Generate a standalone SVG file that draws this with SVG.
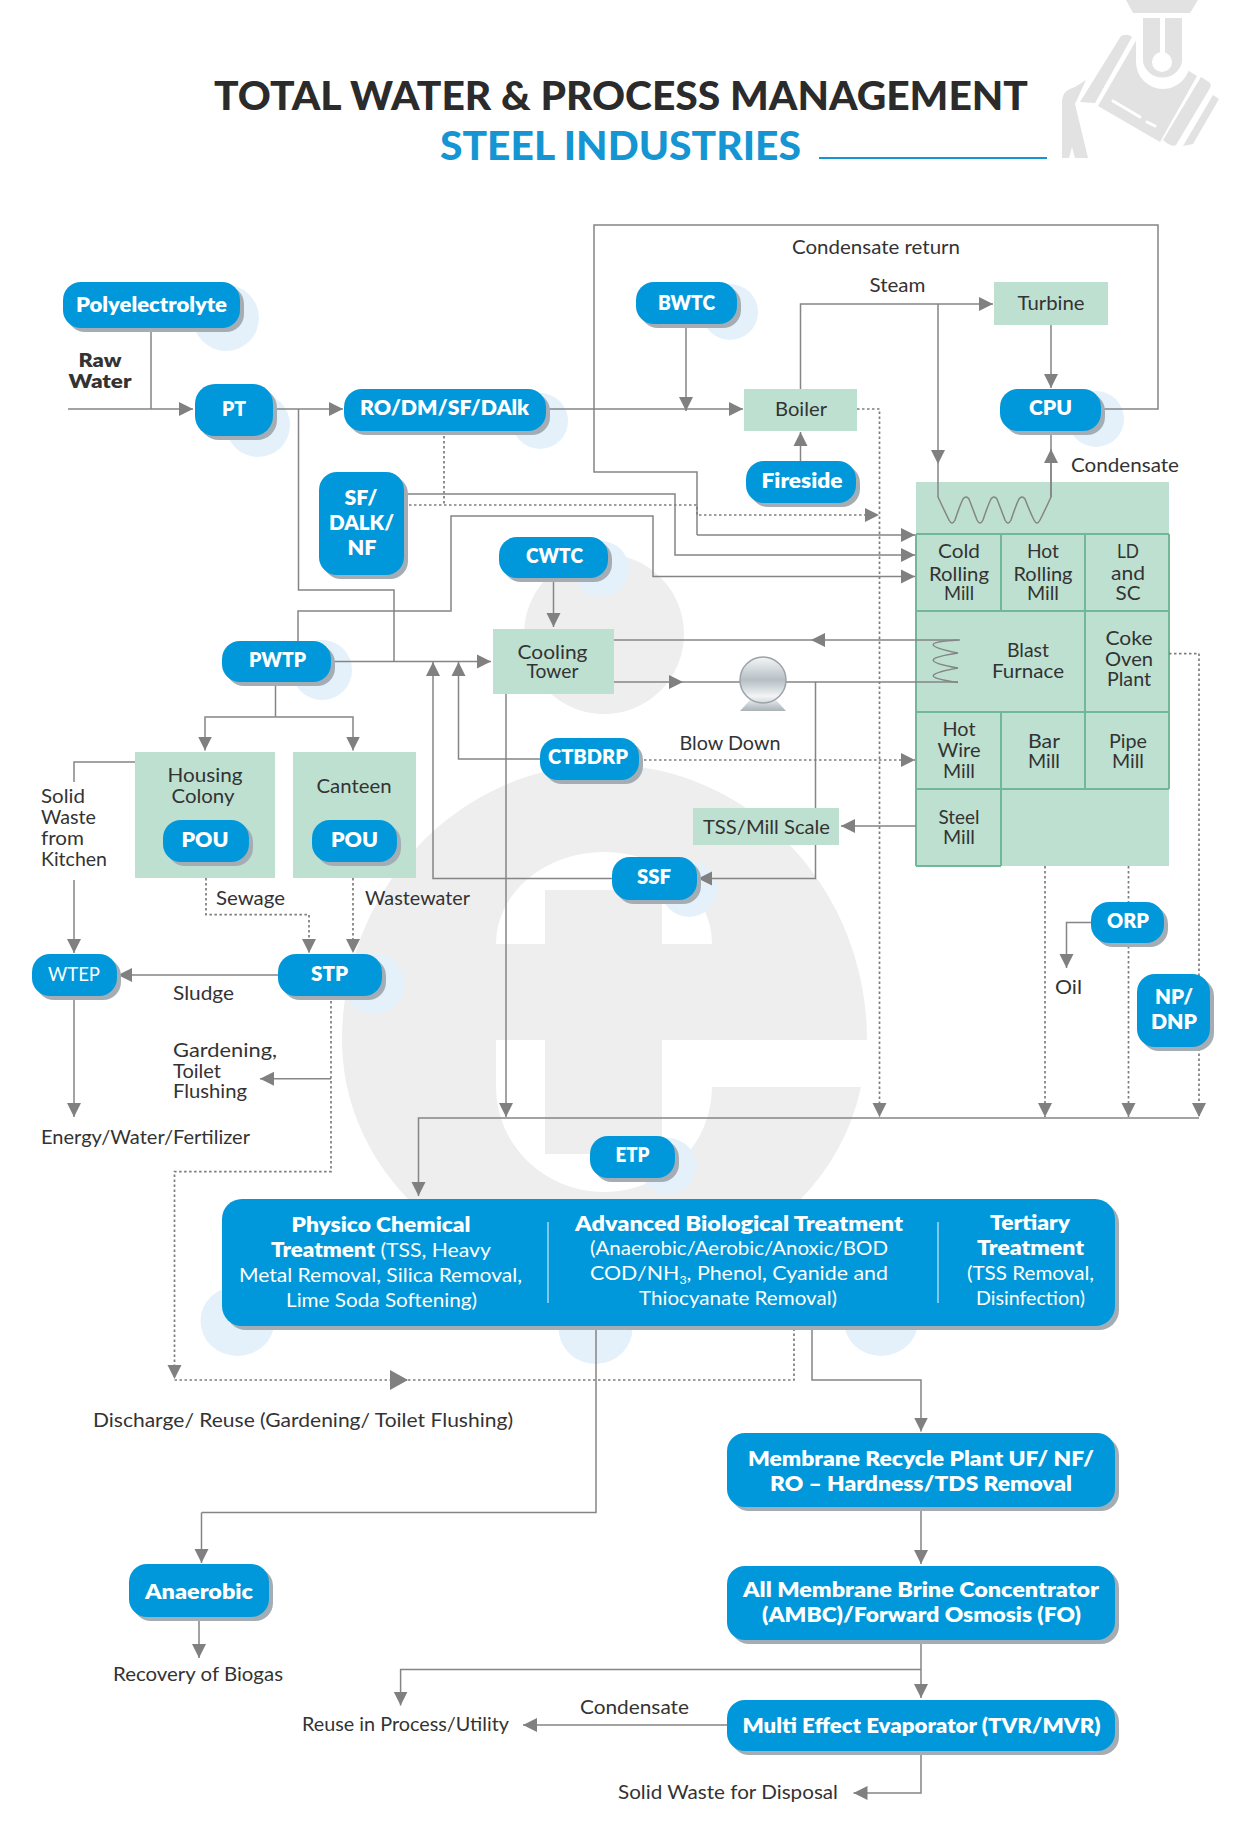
<svg xmlns="http://www.w3.org/2000/svg" width="1241" height="1840" viewBox="0 0 1241 1840">
<style>
text{font-family:Lato,"Liberation Sans",sans-serif;font-size:19px;fill:#333;text-anchor:middle}
.l{text-anchor:start}
.w{fill:#fff;font-weight:800;font-size:20px}
.r{fill:#fff;font-weight:400;font-size:19px}
.h{fill:#eee}
.halo{fill:#e4f1fa}
.pill{fill:#0098da}
.sh{fill:#a3adb3}
.g{fill:#bde0d0}
.cell{fill:none;stroke:#72b79a;stroke-width:2}
.c{fill:none;stroke:#858585;stroke-width:1.5}
.d{fill:none;stroke:#7d7d7d;stroke-width:1.7;stroke-dasharray:2.5 2.5}
.m{marker-end:url(#a)}
.logo{fill:#e2e2e2}
</style>
<defs>
<marker id="a" markerUnits="userSpaceOnUse" markerWidth="15" markerHeight="15" refX="14" refY="7.5" orient="auto"><path d="M0,0.5 L14,7.5 L0,14.5 Z" fill="#808080"/></marker>
<marker id="b" markerUnits="userSpaceOnUse" markerWidth="19" markerHeight="22" refX="18" refY="11" orient="auto"><path d="M0,1 L18,11 L0,21 Z" fill="#808080"/></marker>
<linearGradient id="pg" x1="0" y1="0" x2="0" y2="1"><stop offset="0" stop-color="#f4f6f7"/><stop offset="0.5" stop-color="#b5bfc4"/><stop offset="0.85" stop-color="#f2f4f5"/><stop offset="1" stop-color="#d5dade"/></linearGradient>
<linearGradient id="pb" x1="0" y1="0" x2="0" y2="1"><stop offset="0" stop-color="#e4e8ea"/><stop offset="1" stop-color="#a8b2b7"/></linearGradient>
</defs>
<rect width="1241" height="1840" fill="#fff"/>

<g id="watermark">
<circle class="h" cx="604" cy="634" r="80"/>
<path class="h" d="M342,1040 A262,275 0 0 1 867,1040 L861,1087 A262,240 0 0 1 801,1199 L408,1199 A262,240 0 0 1 342,1040 Z"/>
<path fill="#fff" d="M496,944 A108,92 0 0 1 712,944 Z"/>
<path fill="#fff" d="M496,1040 L496,1087 A108,105 0 0 0 712,1087 L875,1087 L875,1040 Z"/>
<rect class="h" x="545" y="890" width="117" height="264"/>
</g>

<g id="logo">
<path class="logo" d="M1126,0 H1198 L1190,13 H1133 Z"/>
<path class="logo" d="M1137,39 L1098,106 L1160,142 L1197,76 Z"/>
<path fill="#fff" d="M1136,18 H1190 V62 A27,27 0 0 1 1136,62 Z"/>
<path class="logo" d="M1143,18 H1182 V62 A20,20 0 0 1 1143,62 Z"/>
<circle cx="1162" cy="62" r="10" fill="#fff"/>
<rect x="1160" y="18" width="5" height="36" fill="#fff"/>
<path class="logo" d="M1121,36 Q1127,33 1132,37 L1095,103 L1080,102 Z"/>
<path class="logo" d="M1201,77 L1209,82 Q1212,85 1210,88 L1176,145 Q1172,148 1163,140 Z"/>
<path class="logo" d="M1213,95 L1219,99 L1193,144 L1183,146 Z"/>
<path class="logo" d="M1086,80 L1075,87 Q1063,90 1062,100 L1062,158 L1069,158 L1072,147 L1075,158 L1088,158 L1075,104 Z"/>
<path d="M1113,101 L1140,117 M1147,122 L1155,126" stroke="#fff" stroke-width="3" stroke-linecap="round" fill="none"/>
</g>

<g id="title">
<text x="621" y="109.5" style="font-size:40px;font-weight:900;fill:#2b2b2b" textLength="814" lengthAdjust="spacingAndGlyphs">TOTAL WATER &amp; PROCESS MANAGEMENT</text>
<text x="620.5" y="160" style="font-size:40px;font-weight:900;fill:#1596d2" textLength="361" lengthAdjust="spacingAndGlyphs">STEEL INDUSTRIES</text>
<path d="M819,158 H1047" stroke="#1596d2" stroke-width="2"/>
</g>

<g id="halos">
<circle class="halo" cx="226" cy="318" r="33"/>
<circle class="halo" cx="258" cy="425" r="32"/>
<circle class="halo" cx="540" cy="421" r="28"/>
<circle class="halo" cx="730" cy="312" r="28"/>
<circle class="halo" cx="1096" cy="419" r="28"/>
<circle class="halo" cx="601" cy="569" r="28"/>
<circle class="halo" cx="322" cy="670" r="30"/>
<circle class="halo" cx="689" cy="889" r="28"/>
<circle class="halo" cx="374" cy="984" r="30"/>
<circle class="halo" cx="668" cy="1166" r="28"/>
<ellipse class="halo" cx="237.5" cy="1321" rx="37" ry="35"/>
<ellipse class="halo" cx="595.5" cy="1328" rx="37" ry="36"/>
<ellipse class="halo" cx="881" cy="1321" rx="37" ry="35"/>
</g>

<g id="turbine"><rect class="g" x="994" y="282" width="114" height="43"/><text x="1051" y="310" textLength="67" lengthAdjust="spacingAndGlyphs">Turbine</text></g>
<g id="boiler"><rect class="g" x="744" y="389" width="113" height="42"/><text x="801" y="416" textLength="52" lengthAdjust="spacingAndGlyphs">Boiler</text></g>
<g id="cooling-tower"><rect class="g" x="493" y="629" width="121" height="65"/>
<text x="552.5" y="659" textLength="70" lengthAdjust="spacingAndGlyphs">Cooling</text><text x="552.5" y="678" textLength="52" lengthAdjust="spacingAndGlyphs">Tower</text></g>
<g id="housing-colony"><rect class="g" x="135" y="752" width="140" height="126"/>
<text x="205" y="782" textLength="75" lengthAdjust="spacingAndGlyphs">Housing</text><text x="203" y="803" textLength="63" lengthAdjust="spacingAndGlyphs">Colony</text></g>
<g id="canteen"><rect class="g" x="293" y="752" width="123" height="126"/><text x="354" y="793" textLength="75" lengthAdjust="spacingAndGlyphs">Canteen</text></g>

<g id="mills">
<path class="g" d="M916,482 H1169 V866 H916 Z"/>
<path class="cell" d="M916,534 H1169 M916,611 H1169 M916,712 H1169 M916,789 H1169 M1001,534 V611 M1085,534 V712 M1001,712 V866 M1085,712 V789 M916,534 V866 M1169,534 V789 M916,866 H1001"/>
<g id="cold-rolling-mill"><text x="959" y="558" textLength="42" lengthAdjust="spacingAndGlyphs">Cold</text><text x="959" y="581" textLength="60" lengthAdjust="spacingAndGlyphs">Rolling</text><text x="959" y="600" textLength="30" lengthAdjust="spacingAndGlyphs">Mill</text></g>
<g id="hot-rolling-mill"><text x="1043" y="558" textLength="32" lengthAdjust="spacingAndGlyphs">Hot</text><text x="1043" y="581" textLength="59" lengthAdjust="spacingAndGlyphs">Rolling</text><text x="1043" y="600" textLength="32" lengthAdjust="spacingAndGlyphs">Mill</text></g>
<g id="ld-sc"><text x="1128" y="558" textLength="22" lengthAdjust="spacingAndGlyphs">LD</text><text x="1128" y="580" textLength="34" lengthAdjust="spacingAndGlyphs">and</text><text x="1128" y="600" textLength="25" lengthAdjust="spacingAndGlyphs">SC</text></g>
<g id="blast-furnace"><text x="1028" y="657" textLength="42" lengthAdjust="spacingAndGlyphs">Blast</text><text x="1028" y="678" textLength="72" lengthAdjust="spacingAndGlyphs">Furnace</text></g>
<g id="coke-oven"><text x="1129" y="644.5" textLength="47" lengthAdjust="spacingAndGlyphs">Coke</text><text x="1129" y="665.5" textLength="48" lengthAdjust="spacingAndGlyphs">Oven</text><text x="1129" y="685.5" textLength="44" lengthAdjust="spacingAndGlyphs">Plant</text></g>
<g id="hot-wire-mill"><text x="959" y="736" textLength="33" lengthAdjust="spacingAndGlyphs">Hot</text><text x="959" y="757" textLength="43" lengthAdjust="spacingAndGlyphs">Wire</text><text x="959" y="778" textLength="32" lengthAdjust="spacingAndGlyphs">Mill</text></g>
<g id="bar-mill"><text x="1044" y="747.5" textLength="32" lengthAdjust="spacingAndGlyphs">Bar</text><text x="1044" y="767.5" textLength="32" lengthAdjust="spacingAndGlyphs">Mill</text></g>
<g id="pipe-mill"><text x="1128" y="747.5" textLength="38" lengthAdjust="spacingAndGlyphs">Pipe</text><text x="1128" y="767.5" textLength="32" lengthAdjust="spacingAndGlyphs">Mill</text></g>
<g id="steel-mill"><text x="959" y="824" textLength="41" lengthAdjust="spacingAndGlyphs">Steel</text><text x="959" y="844" textLength="32" lengthAdjust="spacingAndGlyphs">Mill</text></g>
</g>

<g id="connectors">
<path class="c m" d="M68,409 H193"/>
<path class="c" d="M151,328 V409"/>
<path class="c m" d="M273,409 H343"/>
<path class="c" d="M298.5,409 V590 H394 V661.5"/>
<path class="c m" d="M546,409 H743"/>
<path class="c m" d="M686,324 V411"/>
<path class="c m" d="M800.5,461 V432"/>
<path class="c m" d="M800.5,389 V304 H993"/>
<path class="c m" d="M1051,325 V388"/>
<path class="c" d="M1101,409 H1158 V225 H594 V472 H697 V535"/>
<path class="c m" d="M697,535 H915"/>
<path class="c m" d="M938,304 V464"/>
<path class="c" d="M938,464 V497 Q945,512 949,520 Q952,526 955,520 Q960,505 963,499 Q966,495 969,499 Q974,512 977,520 Q980,526 983,520 Q988,505 991,499 Q994,495 997,499 Q1002,512 1005,520 Q1008,526 1011,520 Q1016,505 1019,499 Q1022,495 1025,499 Q1030,512 1034,520 Q1037,526 1040,520 Q1046,508 1051,497 V431"/>
<path class="c m" d="M1051,497 V449"/>
<path class="d m" d="M857,409 H879.5 V1117"/>
<path class="c m" d="M404,494 H675 V555 H915"/>
<path class="c m" d="M298,641 V611 H451 V516 H653 V576.5 H915"/>
<path class="d" d="M444,431 V505"/>
<path class="d m" d="M404,505 H697 V515 H879"/>
<path class="c m" d="M553.5,578 V627"/>
<path class="c m" d="M331,661.5 H491"/>
<path class="c m" d="M540,759 H458.5 V662"/>
<path class="c m" d="M612,878.6 H433 V662"/>
<path class="c m" d="M506,694 V1117"/>
<path class="c m" d="M960,640 H811"/>
<path class="c" d="M811,640 H614"/>
<path class="c m" d="M614,682 H683"/>
<path class="c" d="M683,682 H745 M780,682 H958"/>
<path class="c" d="M958,640 C925,642 925,646 958,653 C925,658 925,662 958,668 C925,674 925,678 958,682.5"/>
<path class="c m" d="M815.5,682 V878.6 H698"/>
<path class="c m" d="M916,826 H841"/>
<path class="d m" d="M639,760 H915"/>
<path class="c" d="M275.5,682 V717"/>
<path class="c m" d="M275.5,717 H205 V750.5"/>
<path class="c m" d="M275.5,717 H353 V750.5"/>
<path class="c" d="M135,762 H74 V782"/>
<path class="c m" d="M74,880 V953"/>
<path class="c m" d="M74,996 V1117"/>
<path class="c m" d="M278,975 H118"/>
<path class="d m" d="M206,878 V914.6 H309 V953"/>
<path class="d m" d="M353,878 V953"/>
<path class="d m" d="M331,996 V1171.6 H174.5 V1379"/>
<path class="c m" d="M331,1078.7 H260"/>
<path class="c m" d="M1199,1118 H418.5 V1196"/>
<path class="d m" d="M1045,866 V1117"/>
<path class="d m" d="M1128.5,866 V1117"/>
<path class="d m" d="M1169,653.6 H1199 V1117"/>
<path class="c m" d="M1091,922.5 H1066.5 V968"/>
<path class="d" d="M408,1380 H794 V1326"/>
<path class="d" d="M174.5,1380 H408" marker-end="url(#b)"/>
<path class="c" d="M596,1326 V1512.6 H201.5"/>
<path class="c m" d="M201.5,1512.6 V1563"/>
<path class="c m" d="M812,1326 V1380 H921 V1431.5"/>
<path class="c m" d="M921,1507 V1564"/>
<path class="c m" d="M921,1640 V1698"/>
<path class="c m" d="M921,1669.6 H400.6 V1705.6"/>
<path class="c m" d="M727,1725 H523"/>
<path class="c m" d="M921,1751 V1793 H853.5"/>
<path class="c m" d="M199,1617 V1658"/>
</g>

<g id="tss"><rect class="g" x="693" y="808" width="146" height="37"/><text x="766.5" y="833.5" textLength="127" lengthAdjust="spacingAndGlyphs">TSS/Mill Scale</text></g>
<g id="pump">
<path d="M750,700 H776 L786,711 H740 Z" fill="url(#pb)"/>
<circle cx="763" cy="680" r="23" fill="url(#pg)" stroke="#9aa3a8" stroke-width="1.5"/>
</g>

<g id="polyelectrolyte"><rect class="sh" x="67" y="286" width="177" height="46" rx="18"/><rect class="pill" x="63" y="282" width="177" height="46" rx="18"/><text class="w" x="151.5" y="312" textLength="151" lengthAdjust="spacingAndGlyphs">Polyelectrolyte</text></g>
<g id="pt"><rect class="sh" x="199" y="388" width="78" height="52" rx="20"/><rect class="pill" x="195" y="384" width="78" height="52" rx="20"/><text class="w" x="234" y="416" textLength="24" lengthAdjust="spacingAndGlyphs">PT</text></g>
<g id="ro"><rect class="sh" x="348" y="393" width="202" height="42" rx="18"/><rect class="pill" x="344" y="389" width="202" height="42" rx="18"/><text class="w" x="444.5" y="415" textLength="169" lengthAdjust="spacingAndGlyphs">RO/DM/SF/DAlk</text></g>
<g id="bwtc"><rect class="sh" x="640" y="286" width="101" height="42" rx="18"/><rect class="pill" x="636" y="282" width="101" height="42" rx="18"/><text class="w" x="686.5" y="310" textLength="57" lengthAdjust="spacingAndGlyphs">BWTC</text></g>
<g id="cpu"><rect class="sh" x="1004" y="393" width="101" height="42" rx="18"/><rect class="pill" x="1000" y="389" width="101" height="42" rx="18"/><text class="w" x="1050.5" y="415" textLength="43" lengthAdjust="spacingAndGlyphs">CPU</text></g>
<g id="fireside"><rect class="sh" x="750" y="465" width="110" height="42" rx="18"/><rect class="pill" x="746" y="461" width="110" height="42" rx="18"/><text class="w" x="802" y="488" textLength="81" lengthAdjust="spacingAndGlyphs">Fireside</text></g>
<g id="sf-dalk-nf"><rect class="sh" x="323" y="476" width="85" height="103" rx="18"/><rect class="pill" x="319" y="472" width="85" height="103" rx="18"/><text class="w" x="361" y="505" textLength="33" lengthAdjust="spacingAndGlyphs">SF/</text><text class="w" x="361.5" y="530" textLength="65" lengthAdjust="spacingAndGlyphs">DALK/</text><text class="w" x="362" y="555" textLength="29" lengthAdjust="spacingAndGlyphs">NF</text></g>
<g id="cwtc"><rect class="sh" x="503" y="541" width="109" height="41" rx="18"/><rect class="pill" x="499" y="537" width="109" height="41" rx="18"/><text class="w" x="554.5" y="563" textLength="57" lengthAdjust="spacingAndGlyphs">CWTC</text></g>
<g id="pwtp"><rect class="sh" x="226" y="645" width="109" height="41" rx="18"/><rect class="pill" x="222" y="641" width="109" height="41" rx="18"/><text class="w" x="277.5" y="667" textLength="57" lengthAdjust="spacingAndGlyphs">PWTP</text></g>
<g id="pou-housing"><rect class="sh" x="167" y="824" width="86" height="42" rx="18"/><rect class="pill" x="163" y="820" width="86" height="42" rx="18"/><text class="w" x="205" y="846.5" textLength="47" lengthAdjust="spacingAndGlyphs">POU</text></g>
<g id="pou-canteen"><rect class="sh" x="316" y="824" width="85" height="42" rx="18"/><rect class="pill" x="312" y="820" width="85" height="42" rx="18"/><text class="w" x="354.5" y="846.5" textLength="47" lengthAdjust="spacingAndGlyphs">POU</text></g>
<g id="ctbdrp"><rect class="sh" x="544" y="742" width="99" height="42" rx="18"/><rect class="pill" x="540" y="738" width="99" height="42" rx="18"/><text class="w" x="588" y="764" textLength="80" lengthAdjust="spacingAndGlyphs">CTBDRP</text></g>
<g id="ssf"><rect class="sh" x="616" y="861" width="85" height="43" rx="18"/><rect class="pill" x="612" y="857" width="85" height="43" rx="18"/><text class="w" x="654" y="884" textLength="34" lengthAdjust="spacingAndGlyphs">SSF</text></g>
<g id="orp"><rect class="sh" x="1095" y="906" width="73" height="41" rx="18"/><rect class="pill" x="1091" y="902" width="73" height="41" rx="18"/><text class="w" x="1128" y="928" textLength="42" lengthAdjust="spacingAndGlyphs">ORP</text></g>
<g id="np-dnp"><rect class="sh" x="1141" y="978" width="73" height="73" rx="18"/><rect class="pill" x="1137" y="974" width="73" height="73" rx="18"/><text class="w" x="1174" y="1004" textLength="38" lengthAdjust="spacingAndGlyphs">NP/</text><text class="w" x="1174" y="1029" textLength="46" lengthAdjust="spacingAndGlyphs">DNP</text></g>
<g id="stp"><rect class="sh" x="282" y="958" width="104" height="42" rx="18"/><rect class="pill" x="278" y="954" width="104" height="42" rx="18"/><text class="w" x="329.5" y="981" textLength="37" lengthAdjust="spacingAndGlyphs">STP</text></g>
<g id="wtep"><rect class="sh" x="36" y="958" width="85" height="42" rx="18"/><rect class="pill" x="32" y="954" width="85" height="42" rx="18"/><text class="r" x="74" y="981" textLength="52" lengthAdjust="spacingAndGlyphs">WTEP</text></g>
<g id="etp"><rect class="sh" x="594" y="1140" width="85" height="42" rx="18"/><rect class="pill" x="590" y="1136" width="85" height="42" rx="18"/><text class="w" x="632.5" y="1161.5" textLength="34" lengthAdjust="spacingAndGlyphs">ETP</text></g>

<g id="etp-box">
<rect class="sh" x="226" y="1203" width="893" height="127" rx="20"/><rect class="pill" x="222" y="1199" width="893" height="127" rx="20"/>
<path d="M548,1222 V1303 M938,1222 V1303" stroke="#cfe9f7" stroke-width="1.2"/>
<text class="w" x="381" y="1232" textLength="179" lengthAdjust="spacingAndGlyphs">Physico Chemical</text>
<text class="r" x="381" y="1257" textLength="220" lengthAdjust="spacingAndGlyphs"><tspan style="font-weight:800;font-size:20px">Treatment</tspan> (TSS, Heavy</text>
<text class="r" x="380.5" y="1282" textLength="283" lengthAdjust="spacingAndGlyphs">Metal Removal, Silica Removal,</text>
<text class="r" x="381.5" y="1307" textLength="191" lengthAdjust="spacingAndGlyphs">Lime Soda Softening)</text>
<text class="w" x="739" y="1231" textLength="328" lengthAdjust="spacingAndGlyphs">Advanced Biological Treatment</text>
<text class="r" x="739" y="1255" textLength="298" lengthAdjust="spacingAndGlyphs">(Anaerobic/Aerobic/Anoxic/BOD</text>
<text class="r" x="739" y="1280" textLength="298" lengthAdjust="spacingAndGlyphs">COD/NH<tspan dy="4" style="font-size:11px">3</tspan><tspan dy="-4">, Phenol, Cyanide and</tspan></text>
<text class="r" x="738" y="1305" textLength="198" lengthAdjust="spacingAndGlyphs">Thiocyanate Removal)</text>
<text class="w" x="1030" y="1230" textLength="80" lengthAdjust="spacingAndGlyphs">Tertiary</text>
<text class="w" x="1030.5" y="1255" textLength="107" lengthAdjust="spacingAndGlyphs">Treatment</text>
<text class="r" x="1030.5" y="1280" textLength="127" lengthAdjust="spacingAndGlyphs">(TSS Removal,</text>
<text class="r" x="1030.5" y="1305" textLength="109" lengthAdjust="spacingAndGlyphs">Disinfection)</text>
</g>
<g id="membrane"><rect class="sh" x="731" y="1437" width="388" height="74" rx="18"/><rect class="pill" x="727" y="1433" width="388" height="74" rx="18"/><text class="w" x="921" y="1466" textLength="346" lengthAdjust="spacingAndGlyphs">Membrane Recycle Plant UF/ NF/</text><text class="w" x="921" y="1491" textLength="302" lengthAdjust="spacingAndGlyphs">RO – Hardness/TDS Removal</text></g>
<g id="ambc"><rect class="sh" x="731" y="1570" width="388" height="74" rx="18"/><rect class="pill" x="727" y="1566" width="388" height="74" rx="18"/><text class="w" x="921" y="1597" textLength="356" lengthAdjust="spacingAndGlyphs">All Membrane Brine Concentrator</text><text class="w" x="921.5" y="1622" textLength="319" lengthAdjust="spacingAndGlyphs">(AMBC)/Forward Osmosis (FO)</text></g>
<g id="evaporator"><rect class="sh" x="731" y="1704" width="388" height="51" rx="18"/><rect class="pill" x="727" y="1700" width="388" height="51" rx="18"/><text class="w" x="921.5" y="1732.5" textLength="358" lengthAdjust="spacingAndGlyphs">Multi Effect Evaporator (TVR/MVR)</text></g>
<g id="anaerobic"><rect class="sh" x="133" y="1568" width="140" height="53" rx="18"/><rect class="pill" x="129" y="1564" width="140" height="53" rx="18"/><text class="w" x="199" y="1599" textLength="108" lengthAdjust="spacingAndGlyphs">Anaerobic</text></g>

<g id="labels">
<text x="100" y="367" style="font-weight:800" textLength="43" lengthAdjust="spacingAndGlyphs">Raw</text>
<text x="100" y="388" style="font-weight:800" textLength="63" lengthAdjust="spacingAndGlyphs">Water</text>
<text x="876" y="254" textLength="168" lengthAdjust="spacingAndGlyphs">Condensate return</text>
<text x="897.5" y="292" textLength="56" lengthAdjust="spacingAndGlyphs">Steam</text>
<text x="1125" y="472" textLength="108" lengthAdjust="spacingAndGlyphs">Condensate</text>
<text x="730" y="750" textLength="101" lengthAdjust="spacingAndGlyphs">Blow Down</text>
<text class="l" x="41" y="803" textLength="44" lengthAdjust="spacingAndGlyphs">Solid</text>
<text class="l" x="41" y="824" textLength="55" lengthAdjust="spacingAndGlyphs">Waste</text>
<text class="l" x="41" y="845" textLength="43" lengthAdjust="spacingAndGlyphs">from</text>
<text class="l" x="41" y="866" textLength="66" lengthAdjust="spacingAndGlyphs">Kitchen</text>
<text class="l" x="216" y="905" textLength="69" lengthAdjust="spacingAndGlyphs">Sewage</text>
<text class="l" x="365" y="905" textLength="105" lengthAdjust="spacingAndGlyphs">Wastewater</text>
<text class="l" x="1055" y="994" textLength="27" lengthAdjust="spacingAndGlyphs">Oil</text>
<text class="l" x="173" y="1000" textLength="61" lengthAdjust="spacingAndGlyphs">Sludge</text>
<text class="l" x="173" y="1057" textLength="104" lengthAdjust="spacingAndGlyphs">Gardening,</text>
<text class="l" x="173" y="1077.5" textLength="48" lengthAdjust="spacingAndGlyphs">Toilet</text>
<text class="l" x="173" y="1098" textLength="74" lengthAdjust="spacingAndGlyphs">Flushing</text>
<text class="l" x="41" y="1144" textLength="209" lengthAdjust="spacingAndGlyphs">Energy/Water/Fertilizer</text>
<text class="l" x="93" y="1427" textLength="420" lengthAdjust="spacingAndGlyphs">Discharge/ Reuse (Gardening/ Toilet Flushing)</text>
<text class="l" x="113" y="1680.5" textLength="170" lengthAdjust="spacingAndGlyphs">Recovery of Biogas</text>
<text class="l" x="302" y="1731" textLength="207" lengthAdjust="spacingAndGlyphs">Reuse in Process/Utility</text>
<text class="l" x="580" y="1714" textLength="109" lengthAdjust="spacingAndGlyphs">Condensate</text>
<text class="l" x="618" y="1799" textLength="220" lengthAdjust="spacingAndGlyphs">Solid Waste for Disposal</text>
</g>
</svg>
